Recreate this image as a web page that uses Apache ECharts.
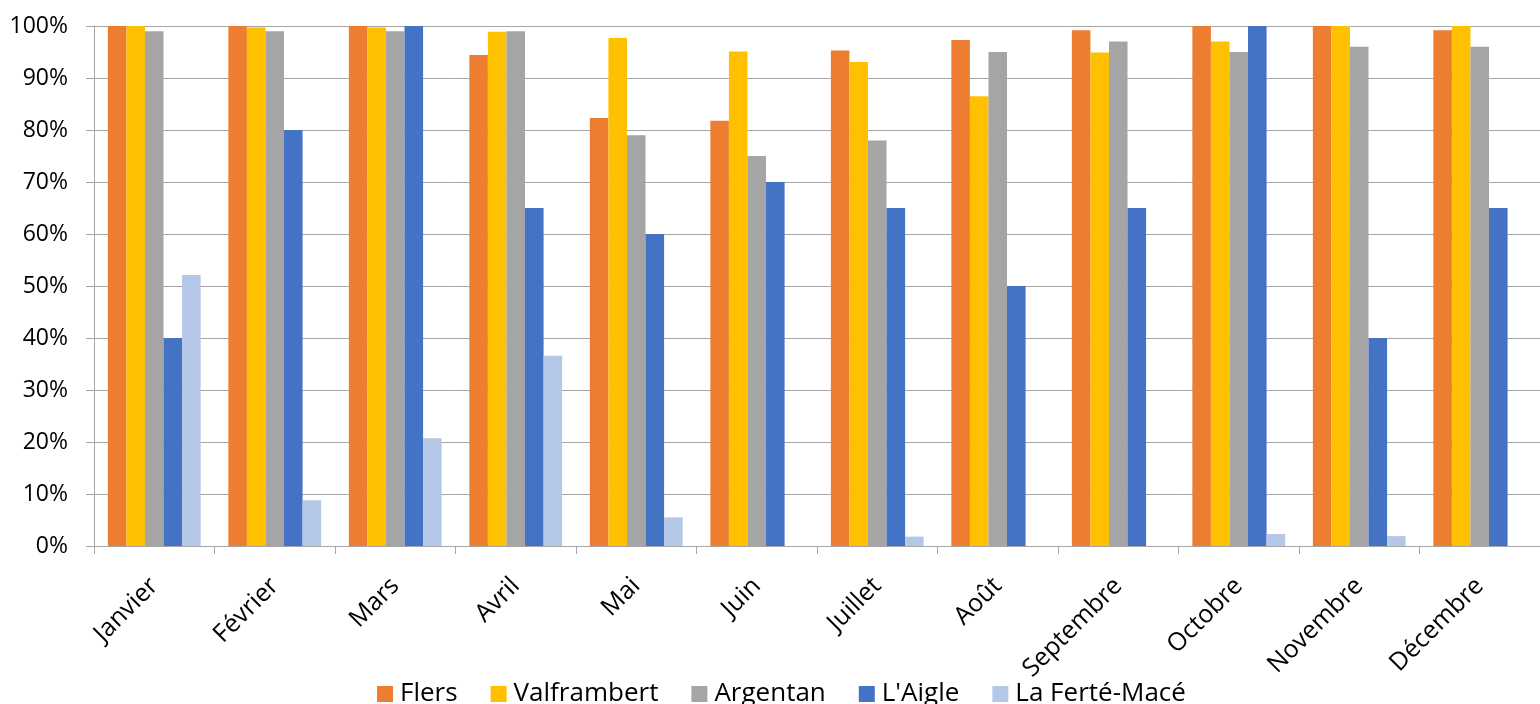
<!DOCTYPE html>
<html>
<head>
<meta charset="utf-8">
<script src="https://cdn.jsdelivr.net/npm/echarts@6/dist/echarts.min.js"></script>
<style>html,body{margin:0;padding:0;background:#fff}#c{width:1540px;height:704px}</style>
</head>
<body>
<div id="c"></div>
<script>
const categories = ['Janvier','Février','Mars','Avril','Mai','Juin','Juillet','Août','Septembre','Octobre','Novembre','Décembre'];
const seriesNames = ['Flers','Valframbert','Argentan',"L'Aigle",'La Ferté-Macé'];
const flers = [100, 100, 100, 94.4, 82.3, 81.8, 95.3, 97.3, 99.2, 100, 100, 99.2];
const valframbert = [100, 99.7, 99.7, 98.9, 97.7, 95.1, 93.1, 86.5, 94.9, 97.0, 100, 100];
const argentan = [99, 99, 99, 99, 79, 75, 78, 95, 97, 95, 96, 96];
const laigle = [40, 80, 100, 65, 60, 70, 65, 50, 65, 100, 40, 65];
const laferteMace = [52.1, 8.8, 20.7, 36.6, 5.5, 0, 1.8, 0, 0, 2.3, 1.9, 0];
const yTicks = [0,10,20,30,40,50,60,70,80,90,100];

const colors = ['#ED7D31','#FFC000','#A5A5A5','#4472C4','#B4C7E7'];
const data = [flers, valframbert, argentan, laigle, laferteMace];
const FONT = 'Open Sans';

const chart = echarts.init(document.getElementById('c'), null, {renderer:'canvas'});
chart.setOption({
  animation: false,
  textStyle: {fontFamily: FONT},
  color: colors,
  grid: {left: 94, top: 26, width: 1452, height: 520, containLabel: false},
  legend: {
    data: seriesNames,
    left: 372, top: 676,
    itemWidth: 16, itemHeight: 16, itemGap: 33,
    icon: 'rect',
    textStyle: {fontFamily: FONT, fontSize: 26, color: '#000', padding: [0,0,0,2]}
  },
  xAxis: {
    type: 'category',
    data: categories,
    axisLine: {lineStyle: {color: '#A6A6A6', width: 1}},
    axisTick: {show: true, length: 8, lineStyle: {color: '#A6A6A6'}},
    axisLabel: {rotate: 45, margin: 36, fontFamily: FONT, fontSize: 25, color: '#000', interval: 0}
  },
  yAxis: {
    type: 'value',
    min: 0, max: 100, interval: 10,
    axisLine: {show: true, lineStyle: {color: '#A6A6A6', width: 1}},
    axisTick: {show: true, length: 8, lineStyle: {color: '#A6A6A6'}},
    splitLine: {show: true, lineStyle: {color: '#A6A6A6', width: 1}},
    axisLabel: {margin: 26, fontFamily: FONT, fontSize: 23, color: '#000',
      formatter: v => yTicks.includes(v) ? v + '%' : ''}
  },
  series: seriesNames.map((name, i) => ({
    name, type: 'bar', data: data[i],
    barGap: '0%', barCategoryGap: '23%',
    itemStyle: {color: colors[i]}
  }))
});
</script>
</body>
</html>
